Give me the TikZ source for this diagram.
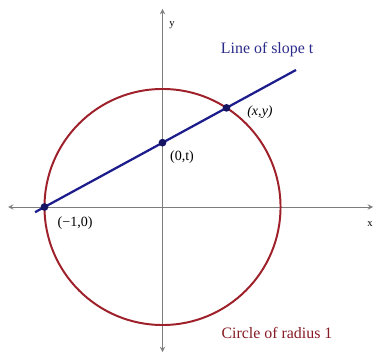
\documentclass[tikz,border=0pt]{standalone}
\usepackage{fontspec}
\setmainfont{Liberation Serif}
\definecolor{rojo}{RGB}{158,32,42}
\definecolor{azul}{RGB}{28,28,140}
\definecolor{gris}{RGB}{125,125,125}
\tikzset{
  eje/.style={gris, line width=0.7pt, -stealth},
  punto/.style={circle, fill=azul!70!black, inner sep=0pt, minimum size=5.5pt},
  etiqueta/.style={font=\fontsize{10}{12}\selectfont, inner sep=1pt}
}
\begin{document}
\begin{tikzpicture}[x=2.95cm, y=2.95cm]
            \useasboundingbox (-1.377,-1.237) rectangle (1.809,1.754);
            \coordinate (O) at (0,0);
            \coordinate (xizq) at (-1.309,0);
            \coordinate (xder) at (1.784,0);
            \coordinate (yinf) at (0,-1.229);
            \coordinate (ysup) at (0,1.678);

            % ejes con flecha en ambos extremos
            \draw[eje] (O) -- (xizq);
            \draw[eje] (O) -- (xder);
            \draw[eje] (O) -- (yinf);
            \draw[eje] (O) -- (ysup);
            \node[font=\fontsize{7.5}{9}\selectfont] (ly) at (0.08,1.54) {y};
            \node[font=\fontsize{7.5}{9}\selectfont] (lx) at (1.758,-0.144) {x};

            \draw[rojo, line width=1.4pt] (O) circle (1);

            \coordinate (r0) at (-1.08,-0.044);
            \coordinate (r1) at (1.131,1.161);
            \draw[azul, line width=1.6pt] (r0) -- (r1);

            \node[punto] (A) at (-1,0) {};
            \node[punto] (B) at (0,0.545) {};
            \node[punto] (C) at (0.542,0.840) {};

            \node[etiqueta] (lA) at (-0.74,-0.136) {(\textminus1,0)};
            \node[etiqueta] (lB) at (0.165,0.424) {(0,t)};
            \node[etiqueta] (lC) at (0.826,0.805) {\textit{(x,y)}};

            \node[font=\fontsize{11.3}{13}\selectfont, text=azul!85!gray] (lr) at (0.886,1.33) {Line of slope t};
            \node[font=\fontsize{11.3}{13}\selectfont, text=rojo!85!black] (lc) at (0.97,-1.068) {Circle of radius 1};
        \end{tikzpicture}
\end{document}
